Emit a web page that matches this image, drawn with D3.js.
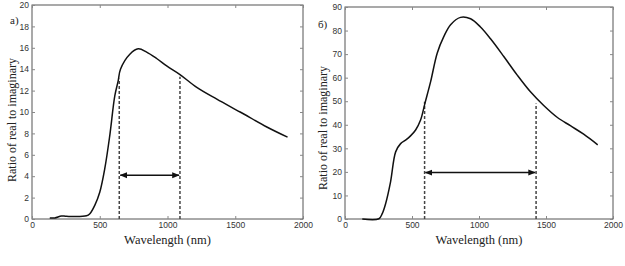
<!DOCTYPE html>
<html>
<head>
<meta charset="utf-8">
<script src="https://cdn.jsdelivr.net/npm/d3@7"></script>
<style>
  body { margin: 0; background: #fff; }
</style>
</head>
<body>
<div id="chart"></div>
<script>
// Panel a) data
const waveA = [131, 168, 217, 254, 402, 427, 464, 500, 537, 574, 611, 636, 653, 722, 784, 846, 920, 994, 1092, 1216, 1364, 1536, 1733, 1886];
const ratioA = [0.1, 0.1, 0.28, 0.25, 0.3, 0.5, 1.3, 2.5, 4.7, 7.8, 11.5, 12.9, 14.0, 15.4, 15.9, 15.6, 15.0, 14.3, 13.5, 12.3, 11.2, 10.0, 8.6, 7.65];
const markersA = [644, 1092];
const markerTopsA = [13.1, 13.3];
const arrowA = 4.1;

// Panel б) data
const waveB = [129, 253, 278, 303, 340, 378, 415, 452, 489, 527, 564, 596, 639, 688, 738, 788, 862, 937, 1011, 1086, 1185, 1284, 1384, 1483, 1583, 1682, 1781, 1886];
const ratioB = [0, 0.1, 2.3, 6.5, 15.8, 28.5, 32, 33.5, 35.3, 37.8, 42, 49, 58.3, 70.4, 77.5, 82.5, 85.6, 85, 81.5, 76.5, 69, 61.2, 54, 48.2, 43.2, 39.6, 36, 31.5];
const markersB = [594, 1426];
const markerTopsB = [49.8, 49];
const arrowB = 19.7;

const xTicks = [0, 500, 1000, 1500, 2000];
const yTicksA = [0, 2, 4, 6, 8, 10, 12, 14, 16, 18, 20];
const yTicksB = [0, 10, 20, 30, 40, 50, 60, 70, 80, 90];

const width = 625, height = 266;
const serif = '"Liberation Serif", "DejaVu Serif", "Times New Roman", serif';
const sans = '"Liberation Sans", Arial, sans-serif';

const svg = d3.select("#chart")
  .append("svg")
  .attr("width", width)
  .attr("height", height);

const defs = svg.append("defs");
["start", "end"].forEach(k => {
  defs.append("marker")
    .attr("id", "arrow-" + k)
    .attr("viewBox", "0 0 10 10")
    .attr("refX", 9)
    .attr("refY", 5)
    .attr("markerWidth", 5)
    .attr("markerHeight", 5)
    .attr("orient", "auto-start-reverse")
    .append("path")
    .attr("d", "M0,1 L10,5 L0,9 Z")
    .attr("fill", "#111");
});

function drawPanel(cfg) {
  const g = svg.append("g");

  const x = d3.scaleLinear().domain([0, 2000]).range([cfg.left, cfg.right]);
  const y = d3.scaleLinear().domain([0, cfg.yMax]).range([cfg.bottom, cfg.top]);

  // box
  g.append("rect")
    .attr("x", cfg.left)
    .attr("y", cfg.top)
    .attr("width", cfg.right - cfg.left)
    .attr("height", cfg.bottom - cfg.top)
    .attr("fill", "none")
    .attr("stroke", "#555")
    .attr("stroke-width", 1);

  // axes (ticks pointing inward, like matlab)
  g.append("g")
    .attr("transform", `translate(0,${cfg.bottom})`)
    .call(d3.axisBottom(x).tickValues(xTicks).tickFormat(d3.format("d")).tickSizeInner(-3).tickSizeOuter(0).tickPadding(3));
  g.append("g")
    .attr("transform", `translate(${cfg.left},0)`)
    .call(d3.axisLeft(y).tickValues(cfg.yTicks).tickSizeInner(-3).tickSizeOuter(0).tickPadding(3));
  g.append("g")
    .attr("transform", `translate(0,${cfg.top})`)
    .call(d3.axisTop(x).tickValues(xTicks).tickSizeInner(-3).tickSizeOuter(0).tickFormat(""));
  g.append("g")
    .attr("transform", `translate(${cfg.right},0)`)
    .call(d3.axisRight(y).tickValues(cfg.yTicks).tickSizeInner(-3).tickSizeOuter(0).tickFormat(""));
  g.selectAll(".domain").remove();
  g.selectAll(".tick line").attr("stroke", "#888");
  g.selectAll(".tick text")
    .style("font-family", sans)
    .style("font-size", "8.5px")
    .attr("fill", "#333");

  // dashed markers
  cfg.markers.forEach((m, i) => {
    g.append("line")
      .attr("x1", x(m)).attr("x2", x(m))
      .attr("y1", y(0)).attr("y2", y(cfg.markerTops[i]))
      .attr("stroke", "#444")
      .attr("stroke-width", 1.5)
      .attr("stroke-dasharray", "3,2");
  });

  // double arrow
  g.append("line")
    .attr("x1", x(cfg.markers[0]) + 1).attr("x2", x(cfg.markers[1]) - 1)
    .attr("y1", y(cfg.arrow)).attr("y2", y(cfg.arrow))
    .attr("stroke", "#111")
    .attr("stroke-width", 1.5)
    .attr("marker-start", "url(#arrow-start)")
    .attr("marker-end", "url(#arrow-end)");

  // curve
  const line = d3.line()
    .x(d => x(d[0]))
    .y(d => y(d[1]))
    .curve(d3.curveCatmullRom.alpha(0.5));
  g.append("path")
    .datum(d3.zip(cfg.wave, cfg.ratio))
    .attr("d", line)
    .attr("fill", "none")
    .attr("stroke", "#111")
    .attr("stroke-width", 1.5);

  // labels
  g.append("text")
    .attr("x", (cfg.left + cfg.right) / 2)
    .attr("y", 244)
    .attr("text-anchor", "middle")
    .style("font-family", serif)
    .style("font-size", "12.5px")
    .attr("fill", "#222")
    .text("Wavelength (nm)");

  g.append("text")
    .attr("transform", `translate(${cfg.yLabelX},${cfg.yLabelY}) rotate(-90)`)
    .attr("text-anchor", "middle")
    .style("font-family", serif)
    .style("font-size", "12px")
    .attr("fill", "#222")
    .text("Ratio of real to imaginary");

  g.append("text")
    .attr("x", cfg.tagX)
    .attr("y", cfg.tagY)
    .style("font-family", serif)
    .style("font-size", "11px")
    .attr("fill", "#222")
    .text(cfg.tag);
}

drawPanel({
  left: 32, right: 303, top: 5, bottom: 219,
  yMax: 20, yTicks: yTicksA,
  wave: waveA, ratio: ratioA,
  markers: markersA, markerTops: markerTopsA, arrow: arrowA,
  yLabelX: 16, yLabelY: 120,
  tag: "a)", tagX: 10, tagY: 24
});

drawPanel({
  left: 345, right: 613, top: 7, bottom: 219,
  yMax: 90, yTicks: yTicksB,
  wave: waveB, ratio: ratioB,
  markers: markersB, markerTops: markerTopsB, arrow: arrowB,
  yLabelX: 327, yLabelY: 128,
  tag: "б)", tagX: 318, tagY: 28
});
</script>
</body>
</html>
